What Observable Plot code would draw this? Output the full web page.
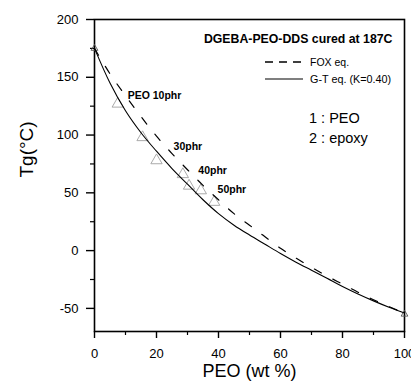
<!DOCTYPE html>
<html>
<head>
<meta charset="utf-8">
<script src="https://cdn.jsdelivr.net/npm/d3@7"></script>
<script src="https://cdn.jsdelivr.net/npm/@observablehq/plot@0.6"></script>
<style>
  html, body { margin: 0; padding: 0; background: white; }
  #wrap { position: relative; width: 411px; height: 381px; overflow: hidden; }
  #legend { position: absolute; left: 0; top: 0; pointer-events: none; }
</style>
</head>
<body>
<div id="wrap"></div>
<script>
// ---- data ----
const wtPEO = [0, 5, 10, 15, 20, 25, 30, 35, 40, 45, 50, 55, 60, 65, 70, 75, 80, 85, 90, 95, 100];
const foxTg = [175, 153, 134, 116, 99, 84, 70, 56.5, 44, 32, 22, 12, 2, -6.5, -14.5, -22, -29, -36, -42.5, -48.5, -54];
const gtTg  = [175, 145, 121, 102, 86, 71, 57.5, 44, 32, 22, 13.5, 5.5, -2.5, -10, -17, -24, -31, -37.5, -43.5, -49, -54];

const expX = [7.5, 15.5, 20, 28.5, 30.5, 34.3, 38.6];
const expY = [127, 98, 78, 66, 56, 52, 42];
const pureX = [0, 100];
const pureY = [175, -55];

const phrLabels = ["PEO 10phr", "30phr", "40phr", "50phr"];
const phrX = [10.7, 25.5, 33.5, 39.7];
const phrY = [131, 87.3, 66, 50];

const xMajor = [0, 20, 40, 60, 80, 100];
const xMinor = [10, 30, 50, 70, 90];
const yMajor = [-50, 0, 50, 100, 150, 200];
const yMinor = [-25, 25, 75, 125, 175];

const titleText = "DGEBA-PEO-DDS cured at 187C";
const legendLabels = ["FOX eq.", "G-T eq. (K=0.40)"];
const componentLabels = ["1 : PEO", "2 : epoxy"];
const xLabel = "PEO (wt %)";
const yLabel = "Tg(°C)";

// ---- tables ----
const fox = wtPEO.map((w, i) => ({w, tg: foxTg[i]}));
const gt = wtPEO.map((w, i) => ({w, tg: gtTg[i]}));
const exp = expX.map((x, i) => ({x, y: expY[i]}));
const pure = pureX.map((x, i) => ({x, y: pureY[i]}));
const phr = phrLabels.map((t, i) => ({t, x: phrX[i], y: phrY[i]}));

const font = "'Liberation Sans', Arial, Helvetica, sans-serif";

const chart = Plot.plot({
  width: 411,
  height: 381,
  marginLeft: 94,
  marginRight: 7,
  marginTop: 19,
  marginBottom: 50,
  x: {domain: [0, 100]},
  y: {domain: [-70, 200]},
  style: {fontFamily: font, background: "white", color: "black", overflow: "visible"},
  marks: [
    Plot.axisX({ticks: xMajor, tickSize: 7, tickPadding: 10, fontSize: 13, strokeWidth: 1.4, label: null, tickFormat: d => String(d)}),
    Plot.axisX({ticks: xMinor, tickSize: 4, strokeWidth: 1.2, text: null, label: null}),
    Plot.axisY({ticks: yMajor, tickSize: 8, tickPadding: 8, fontSize: 13, strokeWidth: 1.4, label: null, tickFormat: d => String(d)}),
    Plot.axisY({ticks: yMinor, tickSize: 4, strokeWidth: 1.2, text: null, label: null}),
    Plot.frame({stroke: "black", strokeWidth: 1.6}),
    Plot.dot(exp, {x: "x", y: "y", symbol: "triangle", r: 4.2, stroke: "#a0a0a0", strokeWidth: 0.9, fill: "none"}),
    Plot.dot(pure, {x: "x", y: "y", symbol: "triangle", r: 2.5, stroke: "#555", strokeWidth: 0.9, fill: "none"}),
    Plot.line(fox, {x: "w", y: "tg", curve: "catmull-rom", stroke: "black", strokeWidth: 1.2, strokeDasharray: "8,13"}),
    Plot.line(gt, {x: "w", y: "tg", curve: "catmull-rom", stroke: "black", strokeWidth: 1.1}),
    Plot.text(phr, {x: "x", y: "y", text: "t", textAnchor: "start", lineAnchor: "bottom", fontSize: 10.5, fontWeight: "bold", fill: "black"}),
    Plot.text([titleText], {frameAnchor: "top-right", textAnchor: "end", lineAnchor: "bottom", dx: -12, dy: 23.5, fontSize: 12.3, fontWeight: "bold", fill: "black"}),
    Plot.text([componentLabels[0]], {frameAnchor: "top-left", textAnchor: "start", lineAnchor: "bottom", dx: 214.5, dy: 103.5, fontSize: 14.5, fill: "black"}),
    Plot.text([componentLabels[1]], {frameAnchor: "top-left", textAnchor: "start", lineAnchor: "bottom", dx: 214.5, dy: 123.5, fontSize: 14.5, fill: "black"}),
    Plot.text([xLabel], {frameAnchor: "bottom", lineAnchor: "bottom", dy: 45.5, fontSize: 18, fill: "black"}),
    Plot.text([yLabel], {frameAnchor: "left", rotate: -90, lineAnchor: "middle", dx: -68, dy: 2, fontSize: 19, fill: "black"})
  ]
});

const wrap = document.getElementById("wrap");
wrap.appendChild(chart);

// legend keys (decoration only)
const leg = d3.select(wrap).append("svg")
  .attr("id", "legend").attr("width", 411).attr("height", 381)
  .style("font-family", font);
leg.append("line").attr("x1", 265).attr("x2", 303).attr("y1", 62).attr("y2", 62)
  .attr("stroke", "black").attr("stroke-width", 1.5).attr("stroke-dasharray", "8,6");
leg.append("line").attr("x1", 265).attr("x2", 303).attr("y1", 79).attr("y2", 79)
  .attr("stroke", "black").attr("stroke-width", 1.1);
leg.append("text").attr("x", 310).attr("y", 65.5).attr("font-size", 10.5).text(legendLabels[0]);
leg.append("text").attr("x", 310).attr("y", 83).attr("font-size", 10.8).text(legendLabels[1]);
</script>
</body>
</html>
